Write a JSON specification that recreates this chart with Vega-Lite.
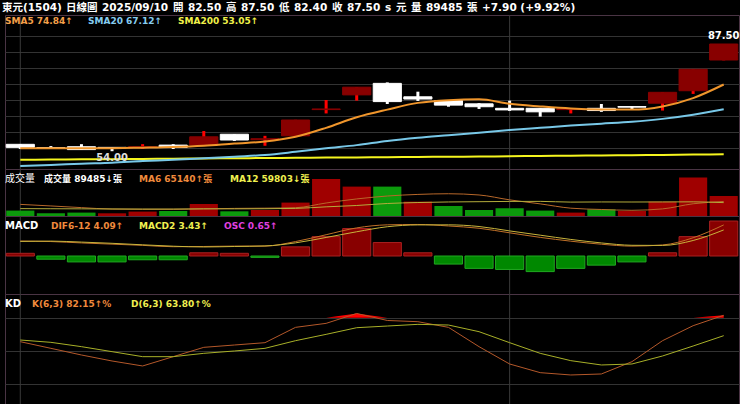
{
  "$schema": "https://vega.github.io/schema/vega-lite/v6.json",
  "background": "#000000",
  "padding": {"left": 1, "right": 2, "top": 2, "bottom": 0},
  "bounds": "flush",
  "spacing": 0,
  "config": {
    "view": {"stroke": "#4a3444", "strokeWidth": 1},
    "font": "DejaVu Sans",
    "axis": {"labels": false, "ticks": false, "domain": false, "title": null, "gridColor": "#333333", "gridWidth": 1},
    "legend": {
      "padding": 0, "offset": 0, "symbolSize": 0, "symbolStrokeWidth": 0, "symbolOpacity": 0, "symbolType": "circle",
      "labelOffset": -9, "labelFont": "DejaVu Sans, Noto Sans CJK TC", "labelFontWeight": "bold",
      "labelFontSize": 9, "labelLimit": 0, "rowPadding": 0,
      "titleColor": "#ffffff", "titleFont": "DejaVu Sans, Noto Sans CJK TC", "titleFontSize": 10,
      "titleFontWeight": "bold", "titleOrient": "left"
    }
  },
  "datasets": {
    "d": [
      {"date": "08/08", "open": 56.15, "high": 56.2, "low": 54.7, "close": 55.2, "chg": -0.5, "vol": 24200, "SMA5": 54.9, "SMA20": 49.4, "SMA200": 51.3, "MA6": 52000, "MA12": 33000, "DIF": 1.97, "MACD": 1.92, "osc": 0.05, "K": 58.4, "D": 59.9},
      {"date": "08/11", "open": 55.1, "high": 55.6, "low": 54.9, "close": 55.0, "chg": -0.2, "vol": 12100, "SMA5": 54.9, "SMA20": 49.7, "SMA200": 51.38, "MA6": 45000, "MA12": 32500, "DIF": 1.9, "MACD": 1.96, "osc": -0.06, "K": 52.4, "D": 57.8},
      {"date": "08/12", "open": 55.4, "high": 56.2, "low": 54.4, "close": 54.5, "chg": -0.5, "vol": 15200, "SMA5": 54.9, "SMA20": 50.1, "SMA200": 51.45, "MA6": 37500, "MA12": 32000, "DIF": 1.72, "MACD": 1.83, "osc": -0.11, "K": 46.4, "D": 53.9},
      {"date": "08/13", "open": 55.2, "high": 55.3, "low": 54.0, "close": 55.0, "chg": 0.5, "vol": 12100, "SMA5": 54.95, "SMA20": 50.4, "SMA200": 51.52, "MA6": 31000, "MA12": 31500, "DIF": 1.56, "MACD": 1.67, "osc": -0.11, "K": 41.0, "D": 49.4},
      {"date": "08/14", "open": 55.2, "high": 56.2, "low": 54.7, "close": 55.4, "chg": 0.4, "vol": 19700, "SMA5": 55.1, "SMA20": 50.9, "SMA200": 51.6, "MA6": 30000, "MA12": 31000, "DIF": 1.4, "MACD": 1.47, "osc": -0.07, "K": 36.5, "D": 44.9},
      {"date": "08/15", "open": 55.9, "high": 56.2, "low": 54.7, "close": 55.2, "chg": -0.2, "vol": 22400, "SMA5": 55.3, "SMA20": 51.3, "SMA200": 51.66, "MA6": 30000, "MA12": 31000, "DIF": 1.22, "MACD": 1.29, "osc": -0.07, "K": 44.9, "D": 44.9},
      {"date": "08/18", "open": 55.9, "high": 60.3, "low": 55.8, "close": 58.5, "chg": 3.3, "vol": 53700, "SMA5": 55.7, "SMA20": 51.8, "SMA200": 51.72, "MA6": 32000, "MA12": 32000, "DIF": 1.25, "MACD": 1.19, "osc": 0.06, "K": 53.3, "D": 47.9},
      {"date": "08/19", "open": 59.3, "high": 59.3, "low": 57.2, "close": 57.5, "chg": -1.0, "vol": 21000, "SMA5": 56.4, "SMA20": 52.3, "SMA200": 51.8, "MA6": 34000, "MA12": 32000, "DIF": 1.3, "MACD": 1.25, "osc": 0.05, "K": 55.4, "D": 50.0},
      {"date": "08/20", "open": 57.6, "high": 58.8, "low": 55.7, "close": 57.9, "chg": 0.4, "vol": 26800, "SMA5": 57.0, "SMA20": 52.8, "SMA200": 51.87, "MA6": 35000, "MA12": 32500, "DIF": 1.3, "MACD": 1.325, "osc": -0.025, "K": 57.5, "D": 52.4},
      {"date": "08/21", "open": 58.8, "high": 63.8, "low": 58.7, "close": 63.75, "chg": 5.85, "vol": 60000, "SMA5": 58.5, "SMA20": 53.8, "SMA200": 51.94, "MA6": 37000, "MA12": 34000, "DIF": 1.9, "MACD": 1.73, "osc": 0.17, "K": 71.3, "D": 59.3},
      {"date": "08/22", "open": 67.0, "high": 70.0, "low": 65.8, "close": 67.2, "chg": 3.45, "vol": 165500, "SMA5": 61.3, "SMA20": 54.9, "SMA200": 52.0, "MA6": 58200, "MA12": 41000, "DIF": 2.8, "MACD": 2.44, "osc": 0.36, "K": 74.9, "D": 65.0},
      {"date": "08/25", "open": 71.6, "high": 74.0, "low": 69.8, "close": 74.0, "chg": 6.8, "vol": 131500, "SMA5": 64.6, "SMA20": 55.9, "SMA200": 52.06, "MA6": 76400, "MA12": 47000, "DIF": 3.7, "MACD": 3.19, "osc": 0.51, "K": 83.8, "D": 71.0},
      {"date": "08/26", "open": 75.2, "high": 75.5, "low": 68.75, "close": 69.5, "chg": -4.5, "vol": 131500, "SMA5": 67.0, "SMA20": 57.2, "SMA200": 52.12, "MA6": 89400, "MA12": 56000, "DIF": 4.1, "MACD": 3.85, "osc": 0.25, "K": 77.5, "D": 72.5},
      {"date": "08/27", "open": 71.0, "high": 72.6, "low": 69.7, "close": 70.3, "chg": 0.8, "vol": 64400, "SMA5": 69.1, "SMA20": 58.2, "SMA200": 52.2, "MA6": 96600, "MA12": 60300, "DIF": 4.15, "MACD": 4.09, "osc": 0.06, "K": 76.4, "D": 74.0},
      {"date": "08/28", "open": 69.8, "high": 69.8, "low": 67.9, "close": 68.4, "chg": -1.9, "vol": 44700, "SMA5": 69.95, "SMA20": 59.0, "SMA200": 52.27, "MA6": 99600, "MA12": 62800, "DIF": 3.95, "MACD": 4.1, "osc": -0.15, "K": 71.3, "D": 73.4},
      {"date": "08/29", "open": 68.8, "high": 69.0, "low": 67.2, "close": 67.9, "chg": -0.5, "vol": 26800, "SMA5": 70.2, "SMA20": 59.8, "SMA200": 52.34, "MA6": 94100, "MA12": 64000, "DIF": 3.65, "MACD": 3.88, "osc": -0.23, "K": 53.9, "D": 67.4},
      {"date": "09/01", "open": 67.4, "high": 69.8, "low": 66.6, "close": 66.9, "chg": -1.0, "vol": 34400, "SMA5": 68.8, "SMA20": 60.6, "SMA200": 52.42, "MA6": 72200, "MA12": 65200, "DIF": 3.05, "MACD": 3.3, "osc": -0.25, "K": 38.3, "D": 57.5},
      {"date": "09/02", "open": 67.4, "high": 67.4, "low": 64.8, "close": 66.3, "chg": -0.6, "vol": 24200, "SMA5": 68.0, "SMA20": 61.3, "SMA200": 52.5, "MA6": 54300, "MA12": 65400, "DIF": 2.45, "MACD": 2.74, "osc": -0.29, "K": 30.5, "D": 47.9},
      {"date": "09/03", "open": 67.0, "high": 67.3, "low": 65.8, "close": 67.2, "chg": 0.9, "vol": 15200, "SMA5": 67.35, "SMA20": 62.0, "SMA200": 52.58, "MA6": 35000, "MA12": 62200, "DIF": 1.95, "MACD": 2.18, "osc": -0.23, "K": 28.4, "D": 41.3},
      {"date": "09/04", "open": 67.4, "high": 68.75, "low": 66.3, "close": 66.7, "chg": -0.5, "vol": 30000, "SMA5": 67.05, "SMA20": 62.6, "SMA200": 52.66, "MA6": 29200, "MA12": 62900, "DIF": 1.55, "MACD": 1.72, "osc": -0.17, "K": 29.3, "D": 37.4},
      {"date": "09/05", "open": 67.95, "high": 68.1, "low": 66.9, "close": 67.75, "chg": 1.05, "vol": 22400, "SMA5": 67.0, "SMA20": 63.2, "SMA200": 52.75, "MA6": 25500, "MA12": 62600, "DIF": 1.3, "MACD": 1.41, "osc": -0.11, "K": 40.4, "D": 38.3},
      {"date": "09/08", "open": 69.0, "high": 72.4, "low": 66.7, "close": 72.4, "chg": 4.65, "vol": 64400, "SMA5": 68.0, "SMA20": 64.1, "SMA200": 52.84, "MA6": 31800, "MA12": 62900, "DIF": 1.45, "MACD": 1.39, "osc": 0.06, "K": 59.3, "D": 45.5},
      {"date": "09/09", "open": 72.9, "high": 79.6, "low": 71.9, "close": 79.6, "chg": 7.2, "vol": 171800, "SMA5": 70.6, "SMA20": 65.4, "SMA200": 52.94, "MA6": 54700, "MA12": 63400, "DIF": 2.4, "MACD": 2.04, "osc": 0.36, "K": 72.8, "D": 54.5},
      {"date": "09/10", "open": 82.5, "high": 87.5, "low": 82.4, "close": 87.5, "chg": 7.9, "vol": 89485, "SMA5": 74.84, "SMA20": 67.12, "SMA200": 53.05, "MA6": 65140, "MA12": 59803, "DIF": 4.09, "MACD": 3.43, "osc": 0.65, "K": 82.15, "D": 63.8}
    ],
    "hdr": [
      {"seg": "東元(1504)"}, {"seg": "日線圖"}, {"seg": "2025/09/10"}, {"seg": "開"}, {"seg": "82.50"},
      {"seg": "高"}, {"seg": "87.50"}, {"seg": "低"}, {"seg": "82.40"}, {"seg": "收"}, {"seg": "87.50 "},
      {"seg": "s"}, {"seg": "元"}, {"seg": "量"}, {"seg": "89485"}, {"seg": "張"}, {"seg": "+7.90 (+9.92%)"}
    ]
  },
  "resolve": {
    "scale": {"x": "shared", "y": "independent", "color": "independent"},
    "legend": {"color": "independent"}
  },
  "vconcat": [
    {
      "width": 734, "height": 154,
      "data": {"name": "d"},
      "encoding": {"x": {"field": "date", "type": "ordinal", "axis": null, "scale": {"paddingInner": 0.08, "paddingOuter": 0.04}}},
      "resolve": {"scale": {"color": "independent"}, "legend": {"color": "independent"}},
      "layer": [
        {"transform": [{"filter": {"field": "date", "oneOf": ["08/08", "09/01"]}}], "mark": {"type": "rule", "color": "#3a3a3a", "strokeWidth": 1}, "encoding": {}},
        {"mark": {"type": "rule", "strokeWidth": 3},
         "encoding": {
           "y": {"field": "low", "type": "quantitative", "scale": {"domain": [48.4375, 96.5625], "nice": false, "zero": false}, "axis": {"values": [55, 60, 65, 70, 75, 80, 85, 90], "grid": true}},
           "y2": {"field": "high"},
           "color": {"condition": {"test": "datum.close >= datum.open", "value": "#ff0000"}, "value": "#ffffff"}
         }},
        {"mark": {"type": "bar", "strokeWidth": 1},
         "encoding": {
           "y": {"field": "open", "type": "quantitative", "axis": {"values": [55, 60, 65, 70, 75, 80, 85, 90], "grid": true}},
           "y2": {"field": "close"},
           "fill": {"condition": {"test": "datum.close >= datum.open", "value": "#880000"}, "value": "#ffffff"},
           "stroke": {"condition": {"test": "datum.close >= datum.open", "value": "#880000"}, "value": "#ffffff"}
         }},
        {"transform": [{"fold": ["SMA200", "SMA20", "SMA5"], "as": ["series", "value"]}],
         "mark": {"type": "line", "interpolate": "monotone"},
         "encoding": {
           "y": {"field": "value", "type": "quantitative", "axis": {"values": [55, 60, 65, 70, 75, 80, 85, 90], "grid": true}},
           "color": {"field": "series", "type": "nominal",
             "scale": {"domain": ["SMA5", "SMA20", "SMA200"], "range": ["#f0962c", "#78c8e8", "#f5f51e"]},
             "legend": {"orient": "none", "legendX": 0, "legendY": 1.5, "direction": "horizontal", "title": null, "columnPadding": 15,
               "labelExpr": "datum.value == 'SMA5' ? 'SMA5 74.84↑' : datum.value == 'SMA20' ? 'SMA20 67.12↑' : 'SMA200 53.05↑'",
               "encode": {"labels": {"update": {"fill": {"signal": "datum.value == 'SMA5' ? '#f5a04a' : datum.value == 'SMA20' ? '#86cdf0' : '#f2f24a'"}}}}}},
           "strokeWidth": {"field": "series", "type": "ordinal", "scale": {"domain": ["SMA5", "SMA20", "SMA200"], "range": [2, 2, 3]}, "legend": null}
         }},
        {"transform": [{"joinaggregate": [{"op": "max", "field": "high", "as": "hmax"}]}, {"filter": "datum.high == datum.hmax"}],
         "mark": {"type": "text", "dy": -8, "color": "#ffffff", "fontWeight": "bold", "fontSize": 10},
         "encoding": {"y": {"field": "high", "type": "quantitative", "axis": {"values": [55, 60, 65, 70, 75, 80, 85, 90], "grid": true}}, "text": {"field": "high", "type": "quantitative", "format": ".2f"}}},
        {"transform": [{"joinaggregate": [{"op": "min", "field": "low", "as": "lmin"}]}, {"filter": "datum.low == datum.lmin"}],
         "mark": {"type": "text", "dy": 7, "color": "#dddddd", "fontWeight": "bold", "fontSize": 10},
         "encoding": {"y": {"field": "low", "type": "quantitative", "axis": {"values": [55, 60, 65, 70, 75, 80, 85, 90], "grid": true}}, "text": {"field": "low", "type": "quantitative", "format": ".2f"}}},
        {"data": {"name": "hdr"},
         "mark": {"type": "point", "size": 0, "strokeWidth": 0},
         "encoding": {
           "x": {"datum": "08/08", "type": "ordinal"},
           "color": {"field": "seg", "type": "nominal",
             "scale": {"domain": ["東元(1504)", "日線圖", "2025/09/10", "開", "82.50", "高", "87.50", "低", "82.40", "收", "87.50 ", "s", "元", "量", "89485", "張", "+7.90 (+9.92%)"], "range": ["#ffffff"]},
             "legend": {"orient": "none", "legendX": -3, "legendY": -12, "direction": "horizontal", "title": null, "columnPadding": 4,
               "symbolSize": 4, "labelOffset": -10.5, "labelFontSize": 10.5, "labelColor": "#ffffff",
               "labelExpr": "datum.label",
               "encode": {
                 "labels": {"update": {
                   "fill": {"signal": "datum.index == 4 || datum.index == 8 ? '#ff3030' : '#ffffff'"},
                   "fontWeight": {"signal": "indexof([0,1,3,5,7,9,12,13,15], datum.index) >= 0 ? 'normal' : 'bold'"}
                 }},
                 "symbols": {"update": {
                   "shape": {"signal": "datum.index == 6 || datum.index == 10 ? 'M-6,-6H29.5V6H-6Z' : 'M0,0L0,0'"},
                   "size": {"value": 4},
                   "fill": {"value": "#ff0000"},
                   "stroke": {"value": "#ff0000"},
                   "strokeWidth": {"value": 0},
                   "opacity": {"value": 1},
                   "fillOpacity": {"value": 1}
                 }}
               }}}
         }}
      ]
    },
    {
      "width": 734, "height": 47,
      "data": {"name": "d"},
      "encoding": {"x": {"field": "date", "type": "ordinal", "axis": null, "scale": {"paddingInner": 0.08, "paddingOuter": 0.04}}},
      "layer": [
        {"transform": [{"filter": {"field": "date", "oneOf": ["08/08", "09/01"]}}], "mark": {"type": "rule", "color": "#3a3a3a", "strokeWidth": 1}, "encoding": {}},
        {"mark": {"type": "bar"},
         "encoding": {
           "y": {"field": "vol", "type": "quantitative", "scale": {"domain": [0, 210300], "nice": false}, "axis": null},
           "fill": {"condition": {"test": "datum.chg >= 0", "value": "#a00000"}, "value": "#0c9a0c"}
         }},
        {"transform": [{"fold": ["MA6", "MA12"], "as": ["series", "value"]}],
         "mark": {"type": "line", "strokeWidth": 1, "interpolate": "monotone"},
         "encoding": {
           "y": {"field": "value", "type": "quantitative", "axis": null},
           "color": {"field": "series", "type": "nominal",
             "scale": {"domain": ["VOL", "MA6", "MA12"], "range": ["#ffffff", "#b8682a", "#b4ac3c"]},
             "legend": {"orient": "none", "legendX": 0, "legendY": 5, "direction": "horizontal", "title": "成交量", "titleFontWeight": "normal", "titleFontSize": 10,
               "titlePadding": 9, "columnPadding": 17,
               "labelExpr": "datum.value == 'VOL' ? '成交量 89485↓張' : datum.value == 'MA6' ? 'MA6 65140↑張' : 'MA12 59803↓張'",
               "encode": {"labels": {"update": {"fill": {"signal": "datum.value == 'VOL' ? '#ffffff' : datum.value == 'MA6' ? '#f08a3c' : '#f0f050'"}}}}}}
         }}
      ]
    },
    {
      "width": 734, "height": 78,
      "data": {"name": "d"},
      "encoding": {"x": {"field": "date", "type": "ordinal", "axis": null, "scale": {"paddingInner": 0.08, "paddingOuter": 0.04}}},
      "resolve": {"scale": {"y": "independent"}},
      "layer": [
        {"transform": [{"filter": {"field": "date", "oneOf": ["08/08", "09/01"]}}], "mark": {"type": "rule", "color": "#3a3a3a", "strokeWidth": 1}, "encoding": {}},
        {"mark": {"type": "bar", "strokeWidth": 1},
         "encoding": {
           "y": {"field": "osc", "type": "quantitative", "scale": {"domain": [-0.7063, 0.7435], "nice": false}, "axis": null},
           "fill": {"condition": {"test": "datum.osc >= 0", "value": "#880000"}, "value": "#008800"},
           "stroke": {"condition": {"test": "datum.osc >= 0", "value": "#a82020"}, "value": "#20a820"}
         }},
        {"transform": [{"fold": ["DIF", "MACD"], "as": ["series", "value"]}],
         "mark": {"type": "line", "strokeWidth": 1, "interpolate": "monotone"},
         "encoding": {
           "y": {"field": "value", "type": "quantitative", "scale": {"domain": [-5.0, 5.263], "nice": false, "zero": false}, "axis": null},
           "color": {"field": "series", "type": "nominal",
             "scale": {"domain": ["DIF", "MACD", "OSC"], "range": ["#c07028", "#c8b43c", "#e040e0"]},
             "legend": {"orient": "none", "legendX": 0, "legendY": 5, "direction": "horizontal", "title": "MACD", "titlePadding": 12, "columnPadding": 15,
               "labelExpr": "datum.value == 'DIF' ? 'DIF6-12 4.09↑' : datum.value == 'MACD' ? 'MACD2 3.43↑' : 'OSC 0.65↑'",
               "encode": {"labels": {"update": {"fill": {"signal": "datum.value == 'DIF' ? '#f08a3c' : datum.value == 'MACD' ? '#f0f050' : '#e040e0'"}}}}}}
         }}
      ]
    },
    {
      "width": 734, "height": 110,
      "data": {"name": "d"},
      "encoding": {"x": {"field": "date", "type": "ordinal", "axis": null, "scale": {"paddingInner": 0.08, "paddingOuter": 0.04}}},
      "resolve": {"scale": {"y": "independent"}},
      "layer": [
        {"transform": [{"filter": {"field": "date", "oneOf": ["08/08", "09/01"]}}], "mark": {"type": "rule", "color": "#3a3a3a", "strokeWidth": 1}, "encoding": {}},
        {"mark": {"type": "area", "color": "#ff0000"},
         "encoding": {
           "y": {"field": "K", "type": "quantitative", "scale": {"domain": [80, 101.35], "range": [23.7, 0], "clamp": true, "nice": false, "zero": false}, "axis": null},
           "y2": {"datum": 80}
         }},
        {"transform": [{"fold": ["K", "D"], "as": ["series", "value"]}],
         "mark": {"type": "line", "strokeWidth": 1},
         "encoding": {
           "y": {"field": "value", "type": "quantitative", "scale": {"domain": [2.25, 101.35], "nice": false, "zero": false}, "axis": {"values": [20, 50, 80], "grid": true}},
           "color": {"field": "series", "type": "nominal",
             "scale": {"domain": ["K", "D"], "range": ["#b4582a", "#a8b028"]},
             "legend": {"orient": "none", "legendX": 0, "legendY": 5, "direction": "horizontal", "title": "KD", "titlePadding": 10, "columnPadding": 19,
               "labelExpr": "datum.value == 'K' ? 'K(6,3) 82.15↑%' : 'D(6,3) 63.80↑%'",
               "encode": {"labels": {"update": {"fill": {"signal": "datum.value == 'K' ? '#f08a3c' : '#f0f050'"}}}}}}
         }}
      ]
    }
  ]
}
